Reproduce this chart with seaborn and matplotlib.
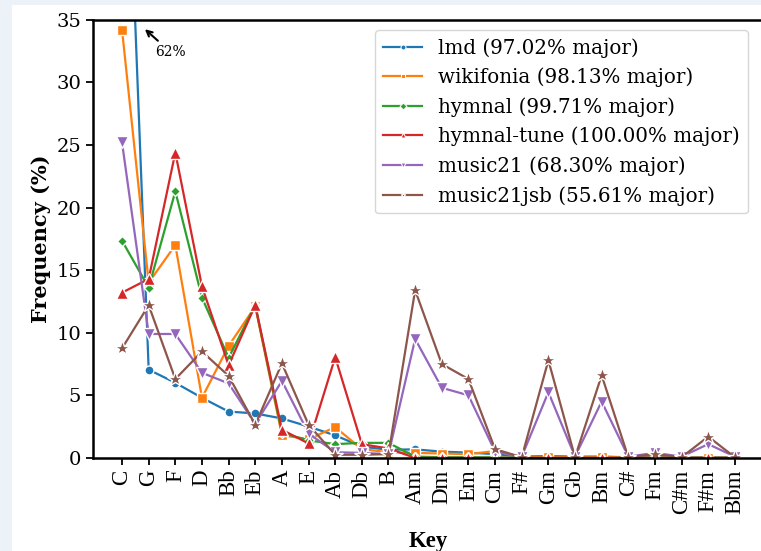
import pandas as pd
import seaborn as sns
import matplotlib.pyplot as plt
from matplotlib.patches import Rectangle

# Key distribution per dataset (frequency in %)
keys = ['C', 'G', 'F', 'D', 'Bb', 'Eb', 'A', 'E', 'Ab', 'Db', 'B', 'Am',
        'Dm', 'Em', 'Cm', 'F#', 'Gm', 'Gb', 'Bm', 'C#', 'Fm', 'C#m', 'F#m', 'Bbm']

lmd = [62.0, 7.05, 6.0, 4.8, 3.7, 3.55, 3.15, 2.5, 1.8, 0.9, 0.65, 0.68,
       0.5, 0.42, 0.3, 0.1, 0.15, 0.1, 0.1, 0.05, 0.05, 0.02, 0.05, 0.02]
wikifonia = [34.2, 14.0, 17.0, 4.8, 8.95, 12.1, 1.8, 1.5, 2.45, 0.7, 0.45, 0.4,
             0.35, 0.3, 0.55, 0.05, 0.1, 0.05, 0.1, 0.02, 0.02, 0.0, 0.02, 0.0]
hymnal = [17.35, 13.6, 21.3, 12.8, 8.0, 12.2, 2.0, 1.4, 1.1, 1.2, 1.2, 0.1,
          0.05, 0.05, 0.05, 0.0, 0.0, 0.0, 0.0, 0.0, 0.0, 0.0, 0.0, 0.0]
hymnal_tune = [13.2, 14.3, 24.4, 13.7, 7.4, 12.2, 2.25, 1.15, 8.05, 1.1, 0.75, 0.0,
               0.0, 0.0, 0.0, 0.0, 0.0, 0.0, 0.0, 0.0, 0.0, 0.0, 0.0, 0.0]
music21 = [25.2, 9.9, 9.9, 6.8, 5.95, 2.7, 6.15, 1.95, 0.45, 0.4, 0.3, 9.5,
           5.6, 5.0, 0.5, 0.1, 5.25, 0.1, 4.5, 0.1, 0.4, 0.1, 1.1, 0.1]
music21jsb = [8.75, 12.2, 6.3, 8.5, 6.55, 2.65, 7.55, 2.65, 0.25, 0.25, 0.3, 13.4,
              7.5, 6.3, 0.7, 0.05, 7.8, 0.05, 6.6, 0.05, 0.3, 0.05, 1.7, 0.05]

labels = ['lmd (97.02% major)', 'wikifonia (98.13% major)', 'hymnal (99.71% major)',
          'hymnal-tune (100.00% major)', 'music21 (68.30% major)',
          'music21jsb (55.61% major)']
series = [lmd, wikifonia, hymnal, hymnal_tune, music21, music21jsb]
markers = ['o', 's', 'D', '^', 'v', '*']
marker_sizes = {'o': 6.5, 's': 6.5, 'D': 5.5, '^': 8.5, 'v': 8.5, '*': 11.5}

rows = []
for lab, vals in zip(labels, series):
    for k, v in zip(keys, vals):
        rows.append({'Key': k, 'Frequency': v, 'Dataset': lab})
df = pd.DataFrame(rows)
df['Key'] = pd.Categorical(df['Key'], categories=keys, ordered=True)
df['Dataset'] = pd.Categorical(df['Dataset'], categories=labels, ordered=True)

plt.rcParams['font.family'] = 'serif'
plt.rcParams['font.serif'] = ['DejaVu Serif']

fig = plt.figure(figsize=(7.61, 5.51), dpi=100)
fig.patch.set_facecolor('#edf2f9')
fig.patches.append(Rectangle((12 / 761, 0), 1, 1 - 5 / 551, transform=fig.transFigure,
                             facecolor='white', edgecolor='none', zorder=-1))
ax = fig.add_axes([0.1222, 0.169, 0.882, 0.795])

sns.lineplot(data=df, x='Key', y='Frequency', hue='Dataset', style='Dataset',
             markers=markers, dashes=False, linewidth=1.6, ax=ax, sort=False)

# per-marker sizes, as in the original figure
for line, m in zip(ax.lines, markers):
    line.set_markersize(marker_sizes[m])
    line.set_markeredgewidth(1.0)

ax.set_ylim(0, 35)
ax.set_xlim(-1.09, 24.1)
ax.set_yticks(range(0, 36, 5))
ax.tick_params(axis='y', labelsize=14, width=1.3, length=5)
ax.tick_params(axis='x', labelsize=16.5, width=1.3, length=5, rotation=90)
for t in ax.get_xticklabels():
    t.set_family('Liberation Serif')
for s in ax.spines.values():
    s.set_linewidth(1.8)
    s.set_color('black')

ax.set_xlabel('Key', fontsize=16.5, fontweight='bold', family='Liberation Serif', labelpad=12)
ax.set_ylabel('Frequency (%)', fontsize=15, fontweight='bold')

ax.annotate('62%', xy=(0.78, 34.4), xytext=(1.26, 32.4), fontsize=10,
            va='center', ha='left',
            arrowprops=dict(arrowstyle='->', color='black', lw=1.5))

ax.legend(loc='upper right', bbox_to_anchor=(748 / 761, 1 - 30 / 551),
          bbox_transform=fig.transFigure, borderaxespad=0,
          fontsize=14.3, markerscale=0.6, title=None)

plt.savefig('out.png', dpi=100)
